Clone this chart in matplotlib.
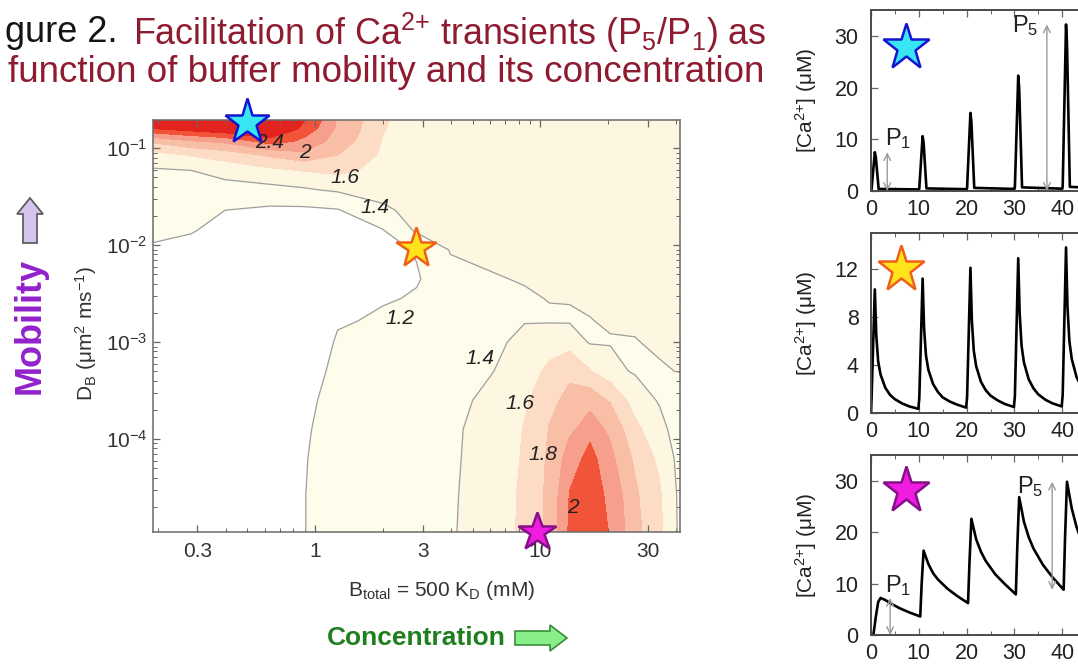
import numpy as np
import matplotlib
matplotlib.use("Agg")
import matplotlib.pyplot as plt
from matplotlib.ticker import FixedLocator, FixedFormatter, LogLocator, NullFormatter, MultipleLocator
from matplotlib.patches import Polygon

plt.rcParams['font.family'] = ['Liberation Sans', 'DejaVu Sans']
plt.rcParams['mathtext.fontset'] = 'custom'
plt.rcParams['mathtext.rm'] = 'Liberation Sans'
plt.rcParams['mathtext.it'] = 'Liberation Sans:italic'
plt.rcParams['mathtext.bf'] = 'Liberation Sans:bold'

# ---------------------------------------------------------------------------
# Facilitation map P5/P1 : grid in log10(B_total / mM) x log10(D_B / um^2 ms^-1)
# ---------------------------------------------------------------------------
log_btotal = [-0.75, -0.55, -0.4, -0.2, -0.05, 0.1, 0.3, 0.45, 0.6, 0.78,
              0.93, 1.04, 1.13, 1.22, 1.31, 1.42, 1.53, 1.65]
log_dbuf = [-0.7, -0.8, -0.93, -1.07, -1.23, -1.43, -1.64, -1.85, -2.05, -2.35,
            -2.55, -2.78, -3.0, -3.3, -3.6, -3.9, -4.2, -4.58, -5.0]

# one list per B_total column, entries follow log_dbuf (top to bottom)
ratio_by_b = [
    [2.75, 2.38, 1.82, 1.52, 1.38, 1.31, 1.26, 1.23, 1.19, 1.10, 1.06, 1.03, 1.0, 1.0, 1.0, 1.0, 1.0, 1.0, 1.0],
    [2.80, 2.50, 1.98, 1.62, 1.40, 1.32, 1.27, 1.21, 1.16, 1.08, 1.05, 1.02, 1.0, 1.0, 1.0, 1.0, 1.0, 1.0, 1.0],
    [2.85, 2.60, 2.05, 1.70, 1.48, 1.33, 1.20, 1.14, 1.10, 1.05, 1.03, 1.01, 1.0, 1.0, 1.0, 1.0, 1.0, 1.0, 1.0],
    [2.85, 2.70, 2.30, 1.84, 1.56, 1.35, 1.17, 1.11, 1.07, 1.03, 1.02, 1.00, 1.0, 1.0, 1.0, 1.0, 1.0, 1.0, 1.0],
    [2.42, 2.33, 2.15, 1.96, 1.61, 1.38, 1.17, 1.11, 1.08, 1.05, 1.05, 1.06, 1.08, 1.12, 1.16, 1.18, 1.19, 1.195, 1.195],
    [1.98, 1.96, 1.90, 1.80, 1.66, 1.43, 1.19, 1.13, 1.10, 1.10, 1.13, 1.18, 1.22, 1.25, 1.27, 1.28, 1.29, 1.30, 1.30],
    [1.62, 1.61, 1.59, 1.56, 1.51, 1.45, 1.38, 1.19, 1.12, 1.13, 1.18, 1.23, 1.27, 1.30, 1.32, 1.33, 1.33, 1.34, 1.34],
    [1.50, 1.50, 1.49, 1.48, 1.47, 1.45, 1.44, 1.43, 1.22, 1.18, 1.22, 1.26, 1.30, 1.33, 1.35, 1.36, 1.36, 1.37, 1.37],
    [1.48, 1.48, 1.48, 1.48, 1.47, 1.46, 1.45, 1.43, 1.41, 1.36, 1.32, 1.31, 1.32, 1.34, 1.36, 1.37, 1.37, 1.375, 1.38],
    [1.47, 1.47, 1.47, 1.47, 1.47, 1.47, 1.47, 1.46, 1.44, 1.39, 1.36, 1.35, 1.36, 1.39, 1.44, 1.48, 1.50, 1.52, 1.53],
    [1.47, 1.47, 1.47, 1.47, 1.47, 1.47, 1.47, 1.47, 1.45, 1.41, 1.385, 1.39, 1.45, 1.52, 1.57, 1.61, 1.62, 1.63, 1.63],
    [1.46, 1.46, 1.46, 1.46, 1.46, 1.46, 1.46, 1.46, 1.45, 1.43, 1.405, 1.385, 1.50, 1.64, 1.74, 1.81, 1.84, 1.86, 1.87],
    [1.45, 1.45, 1.45, 1.45, 1.45, 1.45, 1.45, 1.45, 1.44, 1.43, 1.41, 1.38, 1.52, 1.73, 1.87, 1.95, 2.10, 2.21, 2.24],
    [1.45, 1.45, 1.45, 1.45, 1.45, 1.45, 1.45, 1.45, 1.45, 1.44, 1.43, 1.395, 1.38, 1.61, 1.90, 2.12, 2.27, 2.30, 2.32],
    [1.45, 1.45, 1.45, 1.45, 1.45, 1.45, 1.45, 1.45, 1.45, 1.44, 1.43, 1.42, 1.39, 1.45, 1.78, 1.95, 2.05, 2.15, 2.19],
    [1.44, 1.44, 1.44, 1.44, 1.44, 1.44, 1.44, 1.44, 1.44, 1.44, 1.43, 1.42, 1.395, 1.38, 1.50, 1.65, 1.76, 1.83, 1.86],
    [1.43, 1.43, 1.43, 1.43, 1.43, 1.43, 1.43, 1.43, 1.43, 1.43, 1.43, 1.42, 1.42, 1.39, 1.38, 1.45, 1.55, 1.62, 1.64],
    [1.42, 1.42, 1.42, 1.42, 1.42, 1.42, 1.42, 1.42, 1.42, 1.42, 1.42, 1.42, 1.41, 1.41, 1.33, 1.26, 1.25, 1.25, 1.25],
]

levels = [1.2, 1.4, 1.6, 1.8, 2.0, 2.2, 2.4, 3.0]
fill_colors = ['#FEFCEB', '#FDF6E0', '#FCDCC5', '#F9BEA6', '#F59F8C', '#F2543A', '#E3231D']
line_levels = [1.2, 1.4]

label_levels = [2.4, 2.0, 1.6, 1.4, 1.2, 1.4, 1.6, 1.8, 2.0]
label_b = [0.63, 0.90, 1.36, 1.85, 2.39, 5.41, 8.15, 10.3, 13.9]
label_d = [0.113, 0.091, 0.050, 0.0247, 1.77e-3, 6.8e-4, 2.35e-4, 7.0e-5, 1.95e-5]

btotal_ticks = [0.3, 1, 3, 10, 30]
btotal_ticklabels = ['0.3', '1', '3', '10', '30']
dbuf_ticks = [1e-4, 1e-3, 1e-2, 1e-1]

# parameter sets marked by stars: (B_total, D_B)
star_b = [0.5, 2.8, 9.7]
star_d = [0.185, 0.0093, 1.1e-5]
star_face = ['#36E6F2', '#FFE41C', '#F01CE0']
star_edge = ['#1414D2', '#F0601A', '#86108A']
star_size = [34, 30, 29]

# ---------------------------------------------------------------------------
# Ca2+ transients for five stimuli at 100 Hz (time in ms, Ca in uM)
# ---------------------------------------------------------------------------
t_fast = [0, 0.1, 0.8, 1.0, 1.6, 10.0, 10.1, 10.8, 11.0, 11.6, 20.0, 20.1, 20.8, 21.0, 21.6,
          30.0, 30.1, 30.8, 31.0, 31.6, 40.0, 40.1, 40.8, 41.0, 41.6, 50.0]
ca_fast = [0, 0.2, 7.5, 6.6, 0.4, 0.3, 0.5, 10.6, 9.4, 0.5, 0.35, 0.6, 15.1, 13.4, 0.6,
           0.4, 0.7, 22.3, 19.8, 0.7, 0.45, 0.8, 32.2, 28.6, 0.8, 0.45]

t_mid = [0, 0.1, 0.8, 1.1, 1.5, 2.0, 3.0, 4.0, 5.0, 6.5, 8.0, 9.9,
         10.1, 10.8, 11.1, 11.5, 12.0, 13.0, 14.0, 15.0, 16.5, 18.0, 19.9,
         20.1, 20.8, 21.1, 21.5, 22.0, 23.0, 24.0, 25.0, 26.5, 28.0, 29.9,
         30.1, 30.8, 31.1, 31.5, 32.0, 33.0, 34.0, 35.0, 36.5, 38.0, 39.9,
         40.1, 40.8, 41.1, 41.5, 42.0, 43.0, 44.0, 45.0, 46.5, 48.0, 50.0]
ca_mid = [0, 1.0, 10.3, 6.5, 4.3, 3.2, 2.1, 1.5, 1.15, 0.8, 0.55, 0.35,
          1.2, 11.2, 7.1, 4.8, 3.6, 2.4, 1.75, 1.3, 0.95, 0.7, 0.45,
          1.3, 12.1, 7.7, 5.2, 3.9, 2.6, 1.9, 1.45, 1.05, 0.75, 0.5,
          1.4, 12.9, 8.3, 5.6, 4.2, 2.8, 2.05, 1.55, 1.1, 0.8, 0.55,
          1.5, 13.8, 8.9, 6.0, 4.5, 3.0, 2.2, 1.65, 1.2, 0.85, 0.6]

t_slow = [0, 0.5, 1.0, 1.5, 2.0, 3.0, 4.0, 6.0, 8.0, 10.3,
          10.6, 11.0, 12.0, 13.0, 14.0, 16.0, 18.0, 20.3,
          20.6, 21.0, 22.0, 23.0, 24.0, 26.0, 28.0, 30.3,
          30.6, 31.0, 32.0, 33.0, 34.0, 36.0, 38.0, 40.3,
          40.6, 41.0, 42.0, 43.0, 44.0, 46.0, 48.0, 50.0]
ca_slow = [0, 0, 3.5, 6.4, 7.2, 6.8, 6.2, 5.2, 4.4, 3.6,
           10.0, 16.4, 13.8, 12.0, 10.8, 9.0, 7.6, 6.2,
           14.0, 22.6, 18.6, 16.2, 14.4, 11.8, 9.9, 7.9,
           17.0, 26.8, 22.0, 19.0, 16.8, 13.6, 11.2, 8.8,
           19.0, 29.8, 24.6, 21.0, 18.4, 14.8, 12.2, 10.3]

# ---------------------------------------------------------------------------
W, H = 1078, 664
fig = plt.figure(figsize=(W / 100, H / 100), dpi=100)
fig.patch.set_facecolor('white')


def fx(px):
    return px / W


def fy(py):
    return 1 - py / H


def box(left, top, right, bottom):
    return [fx(left), fy(bottom), (right - left) / W, (bottom - top) / H]


dark_red = '#8E1B30'
tick_grey = '#333333'
ca_label = '[Ca$^{2{+}}$] (μM)'

# ---- title (left part of the figure number runs off the page) -------------
fig.text(fx(5), fy(33), 'gure 2.', ha='left', va='center', fontsize=26, color='#151515')
fig.text(fx(133), fy(33), 'Facilitation of Ca$^{2{+}}$ transients (P$_5$/P$_1$) as',
         ha='left', va='center', fontsize=25.8, color=dark_red)
fig.text(fx(386), fy(73), 'function of buffer mobility and its concentration',
         ha='center', va='center', fontsize=26.5, color=dark_red)

# ---- contour map ---------------------------------------------------------
ax = fig.add_axes(box(153, 120, 680, 532))
B = 10.0 ** np.array(log_btotal)
D = 10.0 ** np.array(log_dbuf)
ratio = np.array(ratio_by_b).T
ax.contourf(B, D, ratio, levels=levels, colors=fill_colors)
ax.contour(B, D, ratio, levels=line_levels, colors='#9E9E9E', linewidths=0.9)
ax.set_xscale('log')
ax.set_yscale('log')
ax.set_xlim(10 ** -0.72, 10 ** 1.62)
ax.set_ylim(1.1e-5, 0.195)

for lv, lb, ld in zip(label_levels, label_b, label_d):
    ax.text(lb, ld, f'{lv:g}', ha='center', va='center', fontsize=15,
            fontstyle='italic', color='#222222')

for sb, sd, fc, ec, ms in zip(star_b, star_d, star_face, star_edge, star_size):
    ax.plot([sb], [sd], marker='*', ms=ms, mfc=fc, mec=ec, mew=1.8,
            clip_on=False, zorder=6, linestyle='none')

ax.xaxis.set_major_locator(FixedLocator(btotal_ticks))
ax.xaxis.set_major_formatter(FixedFormatter(btotal_ticklabels))
ax.xaxis.set_minor_locator(LogLocator(base=10, subs=np.arange(2, 10)))
ax.xaxis.set_minor_formatter(NullFormatter())
ax.yaxis.set_major_locator(FixedLocator(dbuf_ticks))
ax.yaxis.set_minor_locator(LogLocator(base=10, subs=np.arange(2, 10)))
ax.yaxis.set_minor_formatter(NullFormatter())
ax.tick_params(which='both', direction='in', top=True, right=True, colors='#666666',
               labelcolor=tick_grey, labelsize=15)
ax.tick_params(which='major', length=5, width=0.9)
ax.tick_params(which='minor', length=3, width=0.7)
ax.tick_params(axis='x', pad=7)
ax.tick_params(axis='y', pad=4)
for sp in ax.spines.values():
    sp.set_color('#6A6A6A')
    sp.set_linewidth(1.1)

fig.text(fx(442), fy(590), 'B$_\\mathrm{total}$ = 500 K$_\\mathrm{D}$ (mM)',
         ha='center', va='center', fontsize=15, color=tick_grey)
fig.text(fx(86), fy(333), 'D$_\\mathrm{B}$ (μm$^2$ ms$^{-1}$)', rotation=90,
         ha='center', va='center', fontsize=15, color=tick_grey)

# ---- big axis captions with outline arrows --------------------------------
fig.text(fx(30), fy(326), 'Mobility', rotation=90, ha='center', va='center',
         fontsize=26, fontweight='bold', color='#9222CC')
fig.text(fx(416), fy(638), 'Concentration', ha='center', va='center',
         fontsize=19, fontweight='bold', color='#1F7F1F')


def pix_poly(points, face, edge):
    pts = [(fx(x), fy(y)) for x, y in points]
    fig.patches.append(Polygon(pts, closed=True, facecolor=face, edgecolor=edge,
                               linewidth=1.2, transform=fig.transFigure, figure=fig))


pix_poly([(30, 198), (43, 214), (37, 214), (37, 243), (23, 243), (23, 214), (17, 214)],
         '#D6C4EF', '#555555')
pix_poly([(515, 631), (550, 631), (550, 625), (567, 638), (550, 651), (550, 645), (515, 645)],
         '#88EE88', '#3C8C3C')

# ---- Ca2+ transient panels -------------------------------------------------
panels = [
    (box(871, 10, 1110, 191), t_fast, ca_fast, 35, [0, 10, 20, 30], 0),
    (box(871, 233, 1110, 413), t_mid, ca_mid, 15, [0, 4, 8, 12], 1),
    (box(871, 455, 1110, 635), t_slow, ca_slow, 35, [0, 10, 20, 30], 2),
]
trace_axes = []
for rect, tt, cc, ytop, yt, k in panels:
    a = fig.add_axes(rect)
    a.plot(tt, cc, color='black', lw=1.9, solid_joinstyle='round')
    a.set_xlim(0, 50)
    a.set_ylim(0, ytop)
    a.set_yticks(yt)
    a.set_xticks([0, 10, 20, 30, 40])
    a.xaxis.set_minor_locator(MultipleLocator(5))
    a.tick_params(which='both', direction='in', top=True, right=True, colors='#666666',
                  labelcolor='#222222', labelsize=15.5)
    a.tick_params(which='major', length=5, width=0.9)
    a.tick_params(which='minor', length=3, width=0.7)
    a.tick_params(axis='y', pad=9)
    a.tick_params(axis='x', pad=6)
    for sp in a.spines.values():
        sp.set_color('#4A4A4A')
        sp.set_linewidth(1.4)
    a.set_ylabel(ca_label, fontsize=15, color='#222222')
    a.yaxis.set_label_coords(-(871 - 819) / 239, 0.5)
    star_pos = [(7.3, 27.8), (6.3, 12.0), (7.3, 28.2)][k]
    a.plot([star_pos[0]], [star_pos[1]], marker='*', ms=35, mfc=star_face[k],
           mec=star_edge[k], mew=1.8, linestyle='none', zorder=5)
    trace_axes.append(a)


def peak(t, v, lo, hi):
    t = np.asarray(t)
    v = np.asarray(v)
    m = (t >= lo) & (t < hi)
    return v[m].max()


def trough(t, v, lo, hi):
    t = np.asarray(t)
    v = np.asarray(v)
    m = (t >= lo) & (t < hi)
    return v[m].min()


arrow_kw = dict(arrowstyle='<->', color='#9A9A9A', lw=1.0, shrinkA=0, shrinkB=0,
                mutation_scale=12)

a0 = trace_axes[0]
a0.annotate('', xy=(3.4, peak(t_fast, ca_fast, 0, 5)), xytext=(3.4, 0), arrowprops=arrow_kw)
a0.annotate('', xy=(36.8, peak(t_fast, ca_fast, 40, 45)), xytext=(36.8, 0), arrowprops=arrow_kw)
a0.text(3.0, 10.2, 'P$_1$', fontsize=17, color='#222222', ha='left', va='center')
a0.text(29.5, 32.0, 'P$_5$', fontsize=17, color='#222222', ha='left', va='center')

a2 = trace_axes[2]
a2.annotate('', xy=(4.0, peak(t_slow, ca_slow, 0, 5)), xytext=(4.0, 0), arrowprops=arrow_kw)
a2.annotate('', xy=(37.9, peak(t_slow, ca_slow, 40, 45)),
            xytext=(37.9, trough(t_slow, ca_slow, 38, 41)), arrowprops=arrow_kw)
a2.text(3.0, 9.6, 'P$_1$', fontsize=17, color='#222222', ha='left', va='center')
a2.text(30.5, 28.8, 'P$_5$', fontsize=17, color='#222222', ha='left', va='center')

fig.savefig('out.png', dpi=100)
